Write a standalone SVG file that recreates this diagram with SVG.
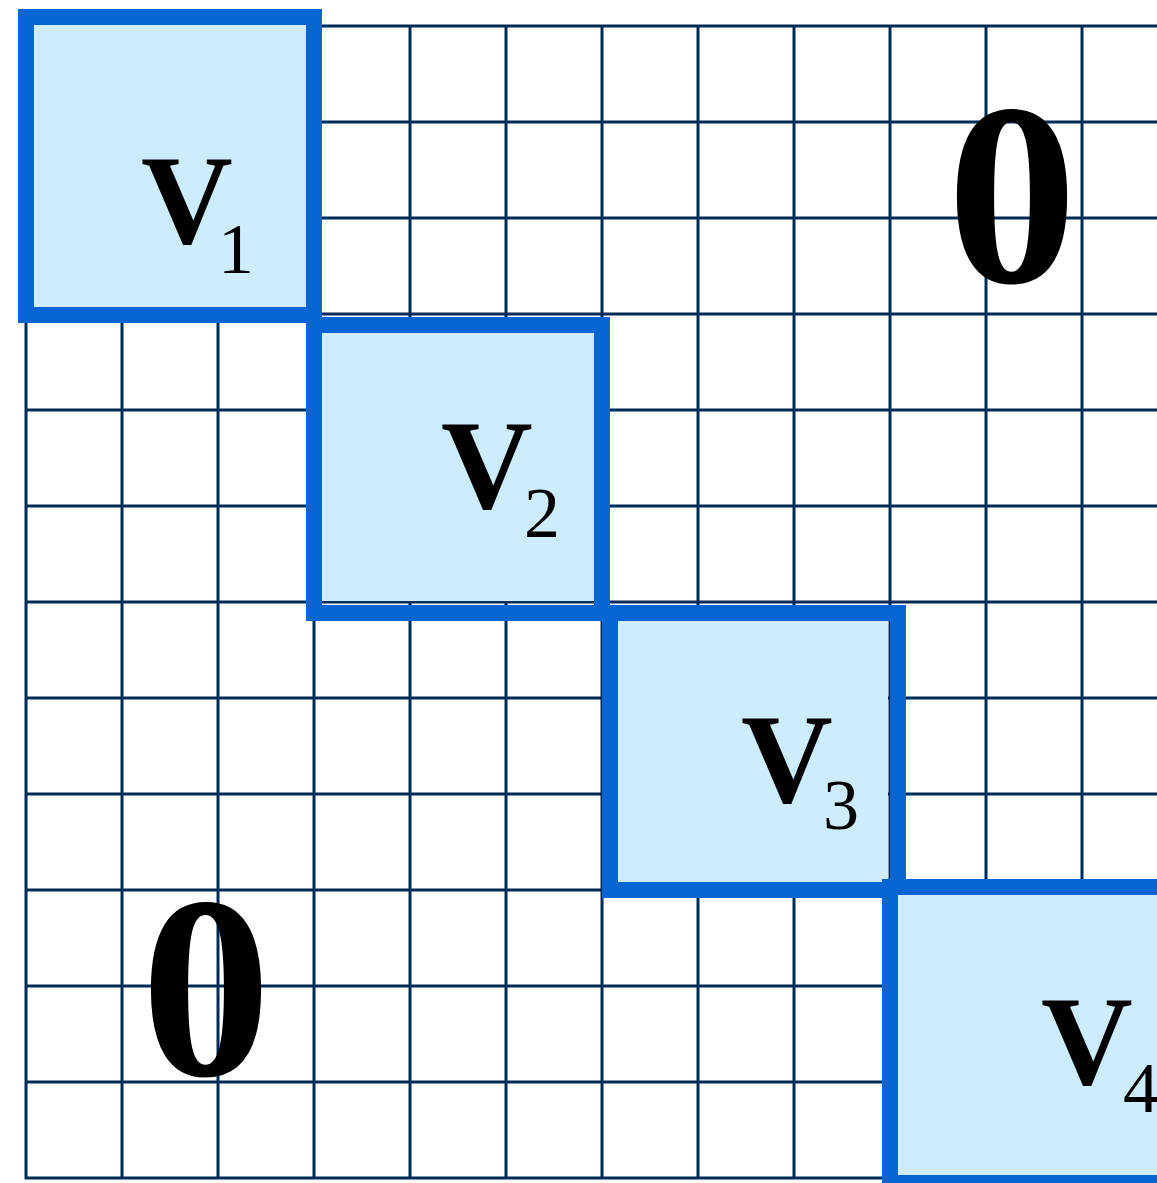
<svg xmlns="http://www.w3.org/2000/svg" width="1157" height="1183" viewBox="0 0 1157 1183">
<style>
.g line{stroke:#022a58;stroke-width:3}
.fill{fill:#cdecfe;stroke:none}
.bd{fill:none;stroke:#0866d2;stroke-width:16}
.v{font-family:"Liberation Serif","Times New Roman",serif;font-weight:bold;font-size:127px;fill:#000}
.s{font-family:"Liberation Serif","Times New Roman",serif;font-size:72px;fill:#000}
.z{font-family:"Liberation Serif","Times New Roman",serif;font-weight:bold;font-size:260px;fill:#000}
</style>
<rect width="1157" height="1183" fill="#fff"/>
<g id="grid" class="g">
<line x1="26" y1="26" x2="26" y2="1179"/>
<line x1="122" y1="26" x2="122" y2="1179"/>
<line x1="218" y1="26" x2="218" y2="1179"/>
<line x1="314" y1="26" x2="314" y2="1179"/>
<line x1="410" y1="26" x2="410" y2="1179"/>
<line x1="506" y1="26" x2="506" y2="1179"/>
<line x1="602" y1="26" x2="602" y2="1179"/>
<line x1="698" y1="26" x2="698" y2="1179"/>
<line x1="794" y1="26" x2="794" y2="1179"/>
<line x1="890" y1="26" x2="890" y2="1179"/>
<line x1="986" y1="26" x2="986" y2="1179"/>
<line x1="1082" y1="26" x2="1082" y2="1179"/>
<line x1="25" y1="26" x2="1157" y2="26"/>
<line x1="25" y1="122" x2="1157" y2="122"/>
<line x1="25" y1="218" x2="1157" y2="218"/>
<line x1="25" y1="314" x2="1157" y2="314"/>
<line x1="25" y1="410" x2="1157" y2="410"/>
<line x1="25" y1="506" x2="1157" y2="506"/>
<line x1="25" y1="602" x2="1157" y2="602"/>
<line x1="25" y1="698" x2="1157" y2="698"/>
<line x1="25" y1="794" x2="1157" y2="794"/>
<line x1="25" y1="890" x2="1157" y2="890"/>
<line x1="25" y1="986" x2="1157" y2="986"/>
<line x1="25" y1="1082" x2="1157" y2="1082"/>
<line x1="25" y1="1178" x2="1157" y2="1178"/>
</g>
<g id="connectors"></g>
<g id="V1">
<rect class="fill" x="34" y="25" width="272" height="282"/>
<rect class="bd" x="26" y="17" width="288" height="298"/>
<text class="v" x="141" y="243">V</text><text class="s" x="218" y="273">1</text>
</g>
<g id="V2">
<rect class="fill" x="322" y="333" width="272" height="268"/>
<rect class="bd" x="314" y="325" width="288" height="288"/>
<text class="v" x="441" y="508">V</text><text class="s" x="524" y="537">2</text>
</g>
<g id="V3">
<rect class="fill" x="618" y="621" width="270" height="262"/>
<rect class="bd" x="610" y="613" width="288" height="277"/>
<text class="v" x="741" y="802">V</text><text class="s" x="823" y="829">3</text>
</g>
<g id="V4">
<rect class="fill" x="898" y="895" width="300" height="280"/>
<rect class="bd" x="890" y="887" width="400" height="296"/>
<text class="v" x="1041" y="1084">V</text><text class="s" x="1123" y="1112">4</text>
</g>
<g id="zero-upper"><text class="z" x="947" y="282">0</text></g>
<g id="zero-lower"><text class="z" x="141" y="1075">0</text></g>
</svg>
